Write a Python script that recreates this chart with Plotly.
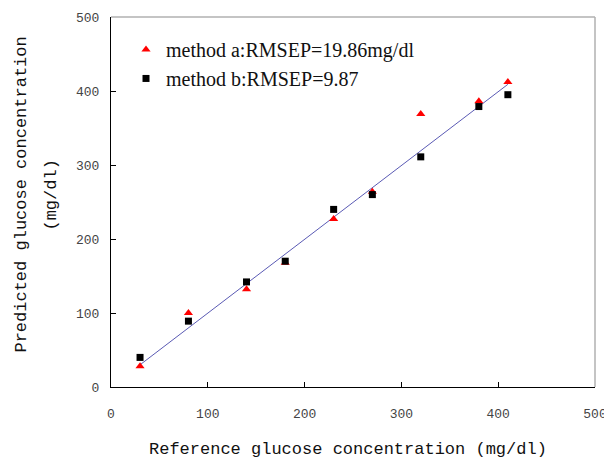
import plotly.graph_objects as go

reference = [30, 80, 140, 180, 230, 270, 320, 380, 410]
method_a = [28, 100, 132, 168, 227, 264, 369, 386, 412]
method_b = [40, 89, 142, 170, 240, 260, 311, 379, 395]
fit_x = [30, 410]
fit_y = [30, 409]
tick_vals = [0, 100, 200, 300, 400, 500]

fig = go.Figure()
fig.add_trace(go.Scatter(x=fit_x, y=fit_y, mode="lines",
                         line=dict(color="#5a5ab4", width=1), showlegend=False))
fig.add_trace(go.Scatter(x=reference, y=method_a, mode="markers",
                         name="method a:RMSEP=19.86mg/dl",
                         marker=dict(symbol="triangle-up", color="#ff0000", size=8)))
fig.add_trace(go.Scatter(x=reference, y=method_b, mode="markers",
                         name="method b:RMSEP=9.87",
                         marker=dict(symbol="square", color="#000000", size=7)))

axis_common = dict(range=[0, 500], tickvals=tick_vals, ticks="inside", ticklen=5,
                   tickcolor="#000", showline=True, linecolor="#000", linewidth=1,
                   showgrid=False, zeroline=False, automargin=False,
                   tickfont=dict(family="Liberation Mono", size=13, color="#444"))

fig.update_xaxes(**axis_common, ticklabelstandoff=14)
fig.update_yaxes(**axis_common, ticklabelstandoff=8)

title_font = dict(family="Liberation Mono", size=17, color="#111")
fig.add_annotation(text="Reference glucose concentration (mg/dl)", xref="paper", yref="paper",
                   x=0.49, y=-0.168, xanchor="center", yanchor="middle",
                   showarrow=False, font=title_font)
fig.add_annotation(text="Predicted glucose concentration", xref="paper", yref="paper",
                   x=-0.184, y=0.52, xanchor="center", yanchor="middle", textangle=-90,
                   showarrow=False, font=title_font)
fig.add_annotation(text="(mg/dl)", xref="paper", yref="paper",
                   x=-0.122, y=0.52, xanchor="center", yanchor="middle", textangle=-90,
                   showarrow=False, font=title_font)

fig.add_shape(type="line", xref="paper", yref="paper", x0=0, x1=1, y0=1, y1=1,
              line=dict(color="#b0b0b0", width=1.5))
fig.add_shape(type="line", xref="paper", yref="paper", x0=1, x1=1, y0=0, y1=1,
              line=dict(color="#b0b0b0", width=1.5))

# page body has an 8px default margin, so the figure is sized to fit inside the window
fig.update_layout(
    width=604, height=451,
    margin=dict(l=103, r=17, t=9, b=72),
    paper_bgcolor="white", plot_bgcolor="white",
    legend=dict(x=0.031, y=0.965, xanchor="left", yanchor="top",
                bgcolor="rgba(0,0,0,0)",
                font=dict(family="Liberation Serif", size=20, color="#111"),
                tracegroupgap=0, itemwidth=30),
)

fig.write_html("out.html")
